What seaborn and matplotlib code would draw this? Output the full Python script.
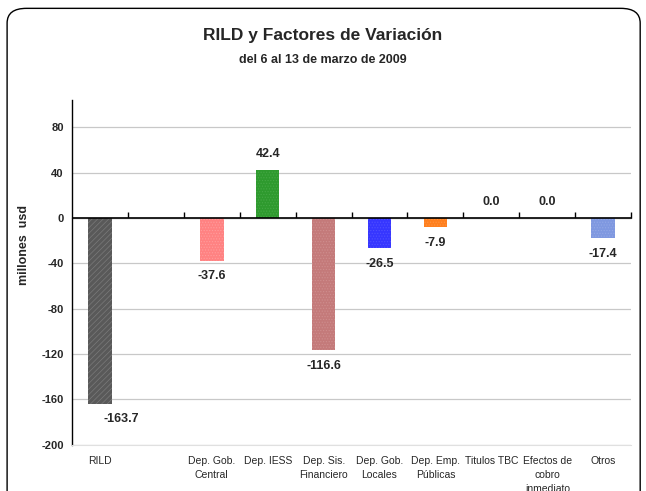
import matplotlib
matplotlib.use("Agg")
import matplotlib.pyplot as plt
import seaborn as sns
import numpy as np
from matplotlib.patches import FancyBboxPatch

# data
categories = ["RILD", " ", "Dep. Gob.\nCentral", "Dep. IESS", "Dep. Sis.\nFinanciero",
              "Dep. Gob.\nLocales", "Dep. Emp.\nPúblicas", "Titulos TBC",
              "Efectos de\ncobro\ninmediato", "Otros"]
values = [-163.7, np.nan, -37.6, 42.4, -116.6, -26.5, -7.9, 0.0, 0.0, -17.4]
bar_colors = ["#595959", "#ffffff", "#ff8282", "#2e9a2e", "#c47a7a",
              "#3636ff", "#ff7f1e", "#ffffff", "#ffffff", "#7f98e0"]
hatch_colors = ["#7a7a7a", None, "#ff9c9c", "#45a845", "#cf8e8e",
                "#5050ff", "#ff9440", None, None, "#93a8e6"]
y_ticks = [-200, -160, -120, -80, -40, 0, 40, 80]

sns.set_style("white")
plt.rcParams["font.family"] = ["Liberation Sans", "DejaVu Sans"]
plt.rcParams["hatch.linewidth"] = 0.5

fig = plt.figure(figsize=(6.46, 4.91), dpi=100)
ax = fig.add_axes([0.1115, 0.094, 0.8655, 0.702])

sns.barplot(x=categories, y=values, hue=categories, palette=bar_colors,
            legend=False, width=0.42, ax=ax, saturation=1)

# fine texture like the original fills, matched to each bar by its position
for bar in ax.patches:
    idx = int(round(bar.get_x() + bar.get_width() / 2))
    hc = hatch_colors[idx]
    bar.set_linewidth(0)
    if hc is None:
        bar.set_edgecolor("none")
    else:
        bar.set_edgecolor(hc)
        bar.set_hatch("//////" if idx == 0 else "......")

ymin, ymax = -200, 104
ax.set_ylim(ymin, ymax)
ax.set_xlim(-0.5, len(categories) - 0.5)

# grid
ax.set_yticks(y_ticks)
ax.yaxis.grid(True, color="#c8c8c8", linewidth=0.9)
ax.set_axisbelow(True)
ax.set_yticklabels([str(t) for t in y_ticks], fontsize=8, fontweight="bold")
ax.tick_params(axis="y", direction="out", length=4, width=1, color="black", pad=2)

ax.spines["top"].set_visible(False)
ax.spines["right"].set_visible(False)
ax.spines["bottom"].set_color("#e0e0e0")
ax.spines["left"].set_color("black")
ax.spines["left"].set_linewidth(1)

ax.tick_params(axis="x", length=0, labelsize=7.5, pad=8)
for lbl in ax.get_xticklabels():
    lbl.set_linespacing(1.5)

# zero line with category boundary ticks
ax.axhline(0, color="black", linewidth=1.2, zorder=3)
zero_frac = (0 - ymin) / (ymax - ymin)
sec = ax.secondary_xaxis(zero_frac)
sec.set_xticks(np.arange(0.5, len(categories), 1.0))
sec.set_xticklabels([])
sec.tick_params(direction="out", length=4, width=1, color="black")
sec.spines["bottom"].set_visible(False)

# value labels
for i, v in enumerate(values):
    if np.isnan(v):
        continue
    dx = 0.38 if i == 0 else 0
    if v >= 0:
        ax.annotate(f"{v:.1f}", (i + dx, v), xytext=(0, 7), textcoords="offset points",
                    ha="center", va="bottom", fontsize=9, fontweight="bold")
    else:
        ax.annotate(f"{v:.1f}", (i + dx, v), xytext=(0, -7), textcoords="offset points",
                    ha="center", va="top", fontsize=9, fontweight="bold")

ax.set_ylabel("millones  usd", fontsize=9, fontweight="bold", labelpad=8)
ax.yaxis.label.set_position((0, 0.58))

fig.text(0.5, 0.927, "RILD y Factores de Variación", ha="center", va="center",
         fontsize=12.5, fontweight="bold")
fig.text(0.5, 0.878, "del 6 al 13 de marzo de 2009", ha="center", va="center",
         fontsize=9, fontweight="bold")

# rounded frame
frame = FancyBboxPatch((0.011, -0.05), 0.98, 1.033, boxstyle="round,pad=0,rounding_size=0.03",
                       transform=fig.transFigure, facecolor="none", edgecolor="black",
                       linewidth=1.0)
fig.patches.append(frame)

fig.savefig("out.png", dpi=100)
